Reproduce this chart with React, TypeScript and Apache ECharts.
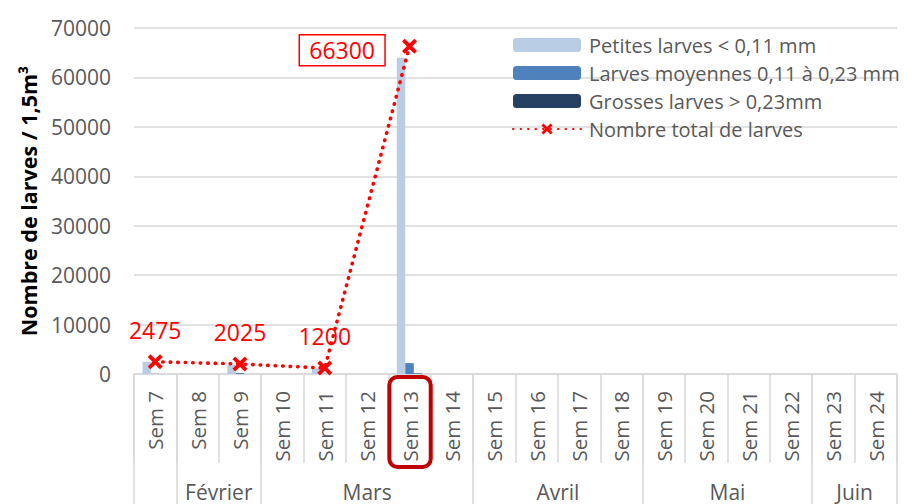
import React, { useEffect, useRef } from "react";
import * as echarts from "echarts";

const weeks = ["Sem 7","Sem 8","Sem 9","Sem 10","Sem 11","Sem 12","Sem 13","Sem 14","Sem 15","Sem 16","Sem 17","Sem 18","Sem 19","Sem 20","Sem 21","Sem 22","Sem 23","Sem 24"];
const months = ["", "Février", "Mars", "Avril", "Mai", "Juin"];
const monthWeekCounts = [1, 2, 5, 4, 4, 2];
const petites = [2450, null, 1825, null, 1150, null, 64000, null, null, null, null, null, null, null, null, null, null, null];
const moyennes = [25, null, 200, null, 50, null, 2200, null, null, null, null, null, null, null, null, null, null, null];
const grosses = [0, null, 0, null, 0, null, 100, null, null, null, null, null, null, null, null, null, null, null];
const totals = [2475, null, 2025, null, 1200, null, 66300, null, null, null, null, null, null, null, null, null, null, null];
const yTicks = { min: 0, max: 70000, interval: 10000 };
const highlightedWeek = "Sem 13";

const seriesNames = ["Petites larves < 0,11 mm", "Larves moyennes 0,11 à 0,23 mm", "Grosses larves > 0,23mm", "Nombre total de larves"];
const FONT = "Open Sans";
const GRAY = "#595959";
const GRID = "#d9d9d9";
const XPATH = "path://M0,1.8 L1.8,0 L5,3.2 L8.2,0 L10,1.8 L6.8,5 L10,8.2 L8.2,10 L5,6.8 L1.8,10 L0,8.2 L3.2,5 Z";

export default function App() {
  const ref = useRef<HTMLDivElement>(null);
  useEffect(() => {
    if (!ref.current) return;
    const chart = echarts.init(ref.current, null, { renderer: "svg" });
    const bounds: number[] = [0];
    monthWeekCounts.forEach((c) => bounds.push(bounds[bounds.length - 1] + c));
    const centers = monthWeekCounts.map((c, i) => bounds[i] + c / 2);
    const centerName: Record<string, string> = {};
    centers.forEach((c, i) => (centerName[String(Math.round(c * 2))] = months[i]));
    const maxIdx = totals.reduce((bi: number, v, i) => (v != null && v > (totals[bi] ?? -1) ? i : bi), 0);

    const barBase = { type: "bar" as const, barGap: "0%", barCategoryGap: "40%", xAxisIndex: 0, yAxisIndex: 0 };
    chart.setOption({
      animation: false,
      textStyle: { fontFamily: FONT },
      grid: { left: 134, right: 17, top: 28, bottom: 130, containLabel: false },
      legend: {
        orient: "vertical",
        left: 507,
        top: 30,
        itemWidth: 68,
        itemHeight: 14,
        itemGap: 8,
        textStyle: { color: GRAY, fontSize: 20, fontFamily: FONT, padding: [0, 0, 0, 3] },
        data: seriesNames,
      },
      xAxis: [
        {
          type: "category",
          data: weeks,
          position: "bottom",
          axisLine: { show: true, lineStyle: { color: GRID, width: 1.5 } },
          axisTick: { show: true, interval: 0, length: 89, lineStyle: { color: GRID, width: 1.5 } },
          axisLabel: { interval: 0, rotate: 90, margin: 17, color: GRAY, fontSize: 20.5, fontFamily: FONT },
          splitLine: { show: false },
        },
        {
          type: "value",
          min: 0,
          max: weeks.length,
          position: "bottom",
          axisLine: { show: false },
          splitLine: { show: false },
          axisTick: { show: true, customValues: bounds, length: 140, lineStyle: { color: GRID, width: 1.5 } },
          axisLabel: {
            customValues: centers,
            margin: 107,
            color: GRAY,
            fontSize: 21,
            fontFamily: FONT,
            formatter: (v: number) => centerName[String(Math.round(v * 2))] ?? "",
          },
        },
      ],
      yAxis: {
        type: "value",
        min: yTicks.min,
        max: yTicks.max,
        interval: yTicks.interval,
        axisLine: { show: false },
        axisTick: { show: false },
        axisLabel: { color: GRAY, fontSize: 21, margin: 23, fontFamily: FONT, formatter: (v: number) => String(v) },
        splitLine: { lineStyle: { color: GRID, width: 1.5 } },
        name: "Nombre de larves / 1,5m³",
        nameLocation: "middle",
        nameGap: 95,
        nameTextStyle: { color: "#000", fontSize: 21.5, fontWeight: "bold", fontFamily: FONT },
      },
      series: [
        { ...barBase, name: seriesNames[0], data: petites, itemStyle: { color: "#B9CDE5" } },
        { ...barBase, name: seriesNames[1], data: moyennes, itemStyle: { color: "#4F81BD" } },
        { ...barBase, name: seriesNames[2], data: grosses, itemStyle: { color: "#254061" } },
        {
          type: "line",
          name: seriesNames[3],
          xAxisIndex: 0,
          yAxisIndex: 0,
          connectNulls: true,
          data: totals.map((v, i) =>
            i === maxIdx
              ? {
                  value: v,
                  label: {
                    position: "left",
                    distance: 17,
                    offset: [0, 4],
                    borderColor: "#FF0000",
                    borderWidth: 1.5,
                    padding: [4, 10, 4, 10],
                  },
                }
              : v
          ),
          symbol: XPATH,
          symbolSize: 15,
          itemStyle: { color: "#FF0000" },
          lineStyle: { color: "#FF0000", width: 3.6, type: [0.5, 7], cap: "round" },
          label: { show: true, position: "top", distance: 13, color: "#FF0000", fontSize: 23, fontFamily: FONT },
          z: 5,
        },
      ],
    });

    const cx = chart.convertToPixel({ xAxisIndex: 0 }, highlightedWeek) as number;
    const cx2 = chart.convertToPixel({ xAxisIndex: 0 }, weeks[weeks.indexOf(highlightedWeek) + 1]) as number;
    const band = cx2 - cx;
    const axisY = chart.convertToPixel({ yAxisIndex: 0 }, 0) as number;
    chart.setOption({
      graphic: [
        {
          type: "rect",
          shape: { x: cx - band / 2 + 1, y: axisY + 3, width: band - 1, height: 90, r: 8 },
          style: { fill: "none", stroke: "#C00000", lineWidth: 4 },
          z: 10,
        },
      ],
    });
    return () => chart.dispose();
  }, []);
  return <div ref={ref} style={{ position: "absolute", left: 0, top: 0, width: 914, height: 504 }} />;
}
